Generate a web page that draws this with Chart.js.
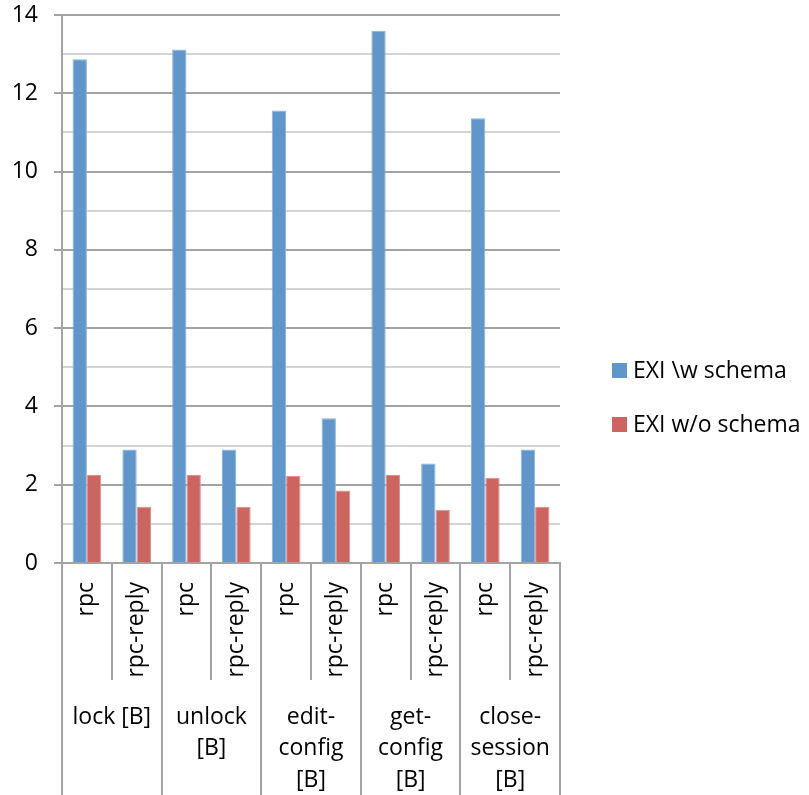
<!DOCTYPE html>
<html>
<head>
<meta charset="utf-8">
<script src="https://cdn.jsdelivr.net/npm/chart.js@4"></script>
<style>
  html, body { margin: 0; padding: 0; background: #fff; }
  canvas { display: block; }
</style>
</head>
<body>
<canvas id="c" width="809" height="795"></canvas>
<script>
// Message types per operation, and the operations they belong to
const messageTypes = ['rpc', 'rpc-reply', 'rpc', 'rpc-reply', 'rpc', 'rpc-reply', 'rpc', 'rpc-reply', 'rpc', 'rpc-reply'];
const operations = [['lock [B]'], ['unlock', '[B]'], ['edit-', 'config', '[B]'], ['get-', 'config', '[B]'], ['close-', 'session', '[B]']];

// Compression per message
const exiWithSchema = [12.87, 2.9, 13.12, 2.9, 11.56, 3.7, 13.6, 2.54, 11.36, 2.9];
const exiWithoutSchema = [2.25, 1.44, 2.25, 1.44, 2.22, 1.85, 2.25, 1.36, 2.18, 1.44];

const seriesNames = ['EXI \\w schema', 'EXI w/o schema'];
const yTicks = [0, 2, 4, 6, 8, 10, 12, 14];

const FONT = "'Open Sans', 'DejaVu Sans', sans-serif";
const MAJOR = '#a3a3a3';
const MINOR = '#d4d4d4';

// Legend drawn at the right of the plot, vertically centred on the canvas
const sideLegend = {
  id: 'sideLegend',
  afterDraw(chart) {
    const ctx = chart.ctx;
    const area = chart.chartArea;
    const x0 = area.right + 52;
    const mid = chart.height / 2;
    const gap = 54;
    ctx.save();
    ctx.font = '23px ' + FONT;
    ctx.textBaseline = 'middle';
    ctx.textAlign = 'left';
    chart.data.datasets.forEach((ds, i) => {
      const cy = mid + (i - (chart.data.datasets.length - 1) / 2) * gap;
      ctx.fillStyle = ds.backgroundColor;
      ctx.fillRect(x0, cy - 7.5, 15, 15);
      ctx.fillStyle = '#000';
      ctx.fillText(ds.label, x0 + 21, cy + 1);
    });
    ctx.restore();
  }
};

new Chart(document.getElementById('c'), {
  type: 'bar',
  data: {
    labels: messageTypes,
    datasets: [
      {
        label: seriesNames[0],
        data: exiWithSchema,
        backgroundColor: '#6096c9',
        borderColor: '#8ab2dc',
        borderWidth: 1,
        xAxisID: 'x'
      },
      {
        label: seriesNames[1],
        data: exiWithoutSchema,
        backgroundColor: '#cc6560',
        borderColor: '#e08e8a',
        borderWidth: 1,
        xAxisID: 'x'
      }
    ]
  },
  options: {
    responsive: false,
    animation: false,
    devicePixelRatio: 1,
    layout: { padding: { top: 15, right: 249, left: 0, bottom: 0 } },
    datasets: { bar: { categoryPercentage: 0.576, barPercentage: 1 } },
    plugins: {
      legend: { display: false },
      tooltip: { enabled: false }
    },
    scales: {
      y: {
        min: 0,
        max: 14,
        afterBuildTicks(scale) {
          const t = [];
          for (let v = 0; v <= 14; v++) t.push({ value: v });
          scale.ticks = t;
        },
        ticks: {
          stepSize: 1,
          color: '#000',
          padding: 16,
          font: { family: FONT, size: 23 },
          callback: v => (yTicks.includes(v) ? String(v) : '')
        },
        grid: {
          color: c => (c.tick && c.tick.value % 2 === 0 ? MAJOR : MINOR),
          tickColor: c => (c.tick && c.tick.value % 2 === 0 ? MAJOR : 'rgba(0,0,0,0)'),
          lineWidth: 2,
          tickLength: 8
        },
        border: { color: MAJOR, width: 2 },
        afterFit(scale) {
          scale.width = 62;
          scale.paddingTop = 0;
          scale.paddingBottom = 0;
        }
      },
      x: {
        type: 'category',
        position: 'bottom',
        offset: true,
        weight: 0,
        grid: {
          offset: true,
          drawOnChartArea: false,
          color: MAJOR,
          tickColor: MAJOR,
          lineWidth: 2,
          tickLength: 117
        },
        border: { color: MAJOR, width: 2 },
        ticks: {
          autoSkip: false,
          minRotation: 90,
          maxRotation: 90,
          padding: -98,
          color: '#000',
          font: { family: FONT, size: 23 }
        },
        afterFit(scale) { scale.height = 117; }
      },
      group: {
        type: 'category',
        axis: 'x',
        position: 'bottom',
        labels: operations,
        offset: true,
        weight: 1,
        grid: {
          offset: true,
          drawOnChartArea: false,
          color: MAJOR,
          tickColor: MAJOR,
          lineWidth: 2,
          tickLength: 115
        },
        border: { display: false },
        ticks: {
          autoSkip: false,
          minRotation: 0,
          maxRotation: 0,
          padding: -93.5,
          color: '#000',
          font: { family: FONT, size: 23, lineHeight: 1.37 }
        },
        afterFit(scale) { scale.height = 115; }
      }
    }
  },
  plugins: [sideLegend]
});
</script>
</body>
</html>
